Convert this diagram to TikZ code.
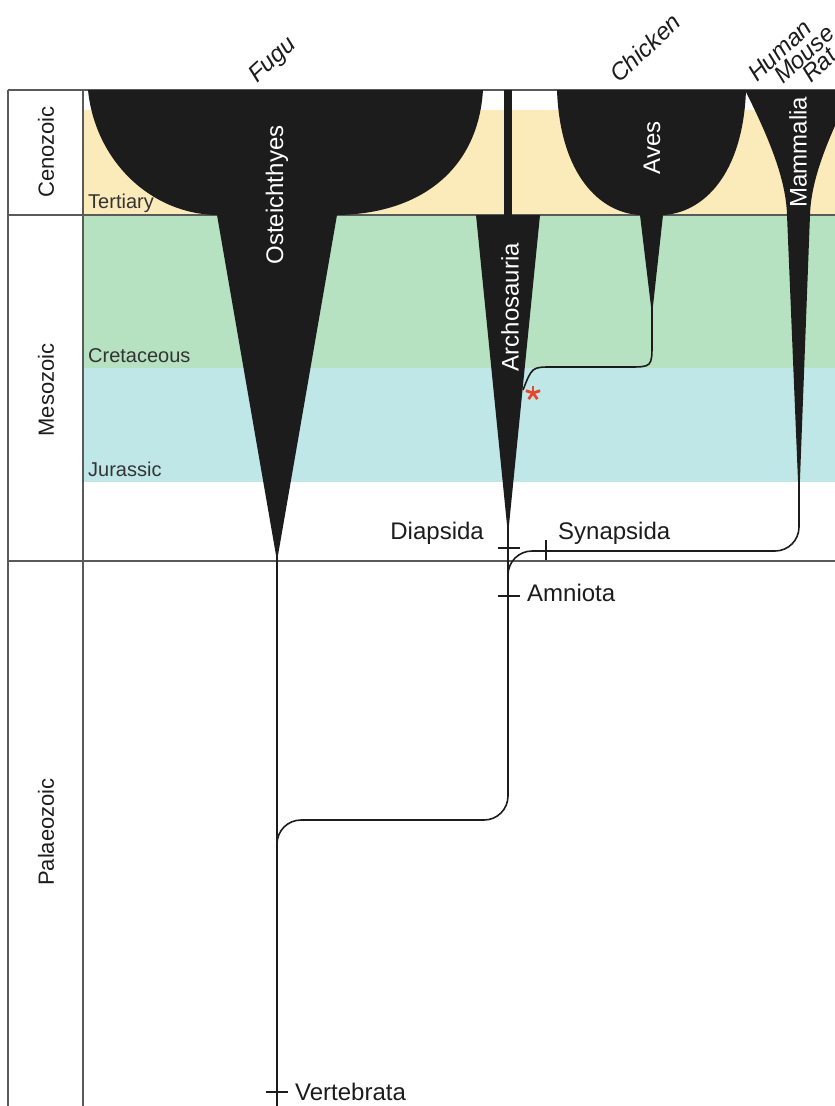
\documentclass[tikz,border=0pt]{standalone}
\usepackage{fontspec}
\setmainfont{Liberation Sans}
\usetikzlibrary{positioning}

\definecolor{tertiary}{HTML}{FBEBBA}
\definecolor{cretaceous}{HTML}{B6E2C1}
\definecolor{jurassic}{HTML}{BFE7E7}
\definecolor{rule}{HTML}{5A5A5A}
\definecolor{ink}{HTML}{1C1C1C}
\definecolor{star}{HTML}{E8472F}

\begin{document}
\begin{tikzpicture}[x=1pt, y=-1pt,
    frame/.style={rule, line width=1.4pt},
    lineage/.style={fill=ink},
    branch/.style={ink, line width=1.6pt, rounded corners=24pt},
    twig/.style={ink, line width=1.6pt},
    tick/.style={ink, line width=1.4pt},
    clade/.style={text=ink, font=\fontsize{24}{24}\selectfont, inner sep=0pt},
    taxon/.style={text=ink, font=\fontsize{24}{24}\selectfont\itshape, rotate=43, anchor=base west, inner sep=0pt},
    era/.style={text=ink, font=\fontsize{22}{22}\selectfont, rotate=90, inner sep=0pt},
    period/.style={text=ink!90, font=\fontsize{20}{20}\selectfont, anchor=base west, inner sep=0pt},
    group/.style={text=white, font=\fontsize{24}{24}\selectfont, rotate=90, inner sep=0pt}
]

\useasboundingbox (0,0) rectangle (835,1106);
\clip (0,0) rectangle (835,1106);

% coloured periods
\fill[tertiary] (83,110) rectangle (835,215);
\fill[cretaceous] (83,215) rectangle (835,368);
\fill[jurassic] (83,368) rectangle (835,482);

% table
\draw[frame] (8,90) -- (835,90);
\draw[frame] (8,215) -- (835,215);
\draw[frame] (8,561) -- (835,561);
\draw[frame] (8,90) -- (8,1106);
\draw[frame] (83,90) -- (83,1106);

\node[era] (cen) at (46,152) {Cenozoic};
\node[era] (mes) at (46,390) {Mesozoic};
\node[era] (pal) at (46,832) {Palaeozoic};

\node[period] (ter) at (88,208) {Tertiary};
\node[period] (cre) at (88,362) {Cretaceous};
\node[period] (jur) at (88,476) {Jurassic};

% branches
\coordinate (ostTip) at (277,561);
\coordinate (archTip) at (508,535);
\coordinate (avesTip) at (652,315);
\coordinate (mamTip) at (799,505);
\coordinate (avesJoin) at (523,390);
\coordinate (amnLevel) at (0,551);
\coordinate (vertLevel) at (0,820);

\draw[branch] ([yshift=20pt]ostTip) -- (277,1106);
\draw[branch] ([yshift=20pt]archTip) -- (archTip |- vertLevel) -- (ostTip |- vertLevel) -- ++(0,60);
\draw[branch] ([yshift=30pt]mamTip) -- (mamTip |- amnLevel) -- (archTip |- amnLevel) -- ++(0,50);
\draw[twig] ([yshift=15pt]avesTip) -- (652,343) .. controls (652,367) .. (628,367) -- (552,367)
    .. controls (532,367) .. (avesJoin);

% lineages
\fill[lineage] (88,90) .. controls (95,160) and (150,214) .. (217,215) -- (277,561) -- (337,215)
    .. controls (420,214) and (478,170) .. (483,90) -- cycle;
\fill[lineage] (504,90) rectangle (512,215);
\fill[lineage] (476,215) -- (508,535) -- (540,215) -- cycle;
\fill[lineage] (557,90) .. controls (560,175) and (600,213) .. (640,215) -- (652,315) -- (663,215)
    .. controls (703,213) and (743,175) .. (746,90) -- cycle;
\fill[lineage] (745,90) .. controls (770,140) and (786,180) .. (787,215) -- (799,505) -- (810,215)
    .. controls (811,180) and (827,140) .. (852,90) -- cycle;

\node[group] (ost) at (277,195) {Osteichthyes};
\node[group] (arc) at (510,307) {Archosauria};
\node[group] (ave) at (652,148) {Aves};
\node[group] (mam) at (798,152) {Mammalia};

% markers
\coordinate (diap) at (508,548);
\coordinate (syn) at (546,550);
\coordinate (amn) at (508,596);
\coordinate (vert) at (277,1092);
\draw[tick] ([xshift=-10pt]diap) -- ([xshift=12pt]diap);
\draw[tick] ([yshift=10pt]syn) -- ([yshift=-10pt]syn);
\draw[tick] ([xshift=-10pt]amn) -- ([xshift=12pt]amn);
\draw[tick] ([xshift=-11pt]vert) -- ([xshift=11pt]vert);

\node[clade, anchor=base east] (diapLbl) at (484,539) {Diapsida};
\node[clade, anchor=base west] (synLbl) at (558,539) {Synapsida};
\node[clade, anchor=base west] (amnLbl) at (527,601) {Amniota};
\node[clade, anchor=base west] (vertLbl) at (295,1100) {Vertebrata};

% asterisk
\coordinate (mark) at (533,393);
\foreach \a in {90,162,234,306,18}
    \draw[star, line width=2.8pt] (mark) -- ++(\a:7.5pt);

% species
\node[taxon] (fugu) at (257,84) {Fugu};
\node[taxon] (chicken) at (619,84) {Chicken};
\node[taxon] (human) at (757,83) {Human};
\node[taxon] (mouse) at (783,85) {Mouse};
\node[taxon] (rat) at (811,84) {Rat};

\end{tikzpicture}
\end{document}
